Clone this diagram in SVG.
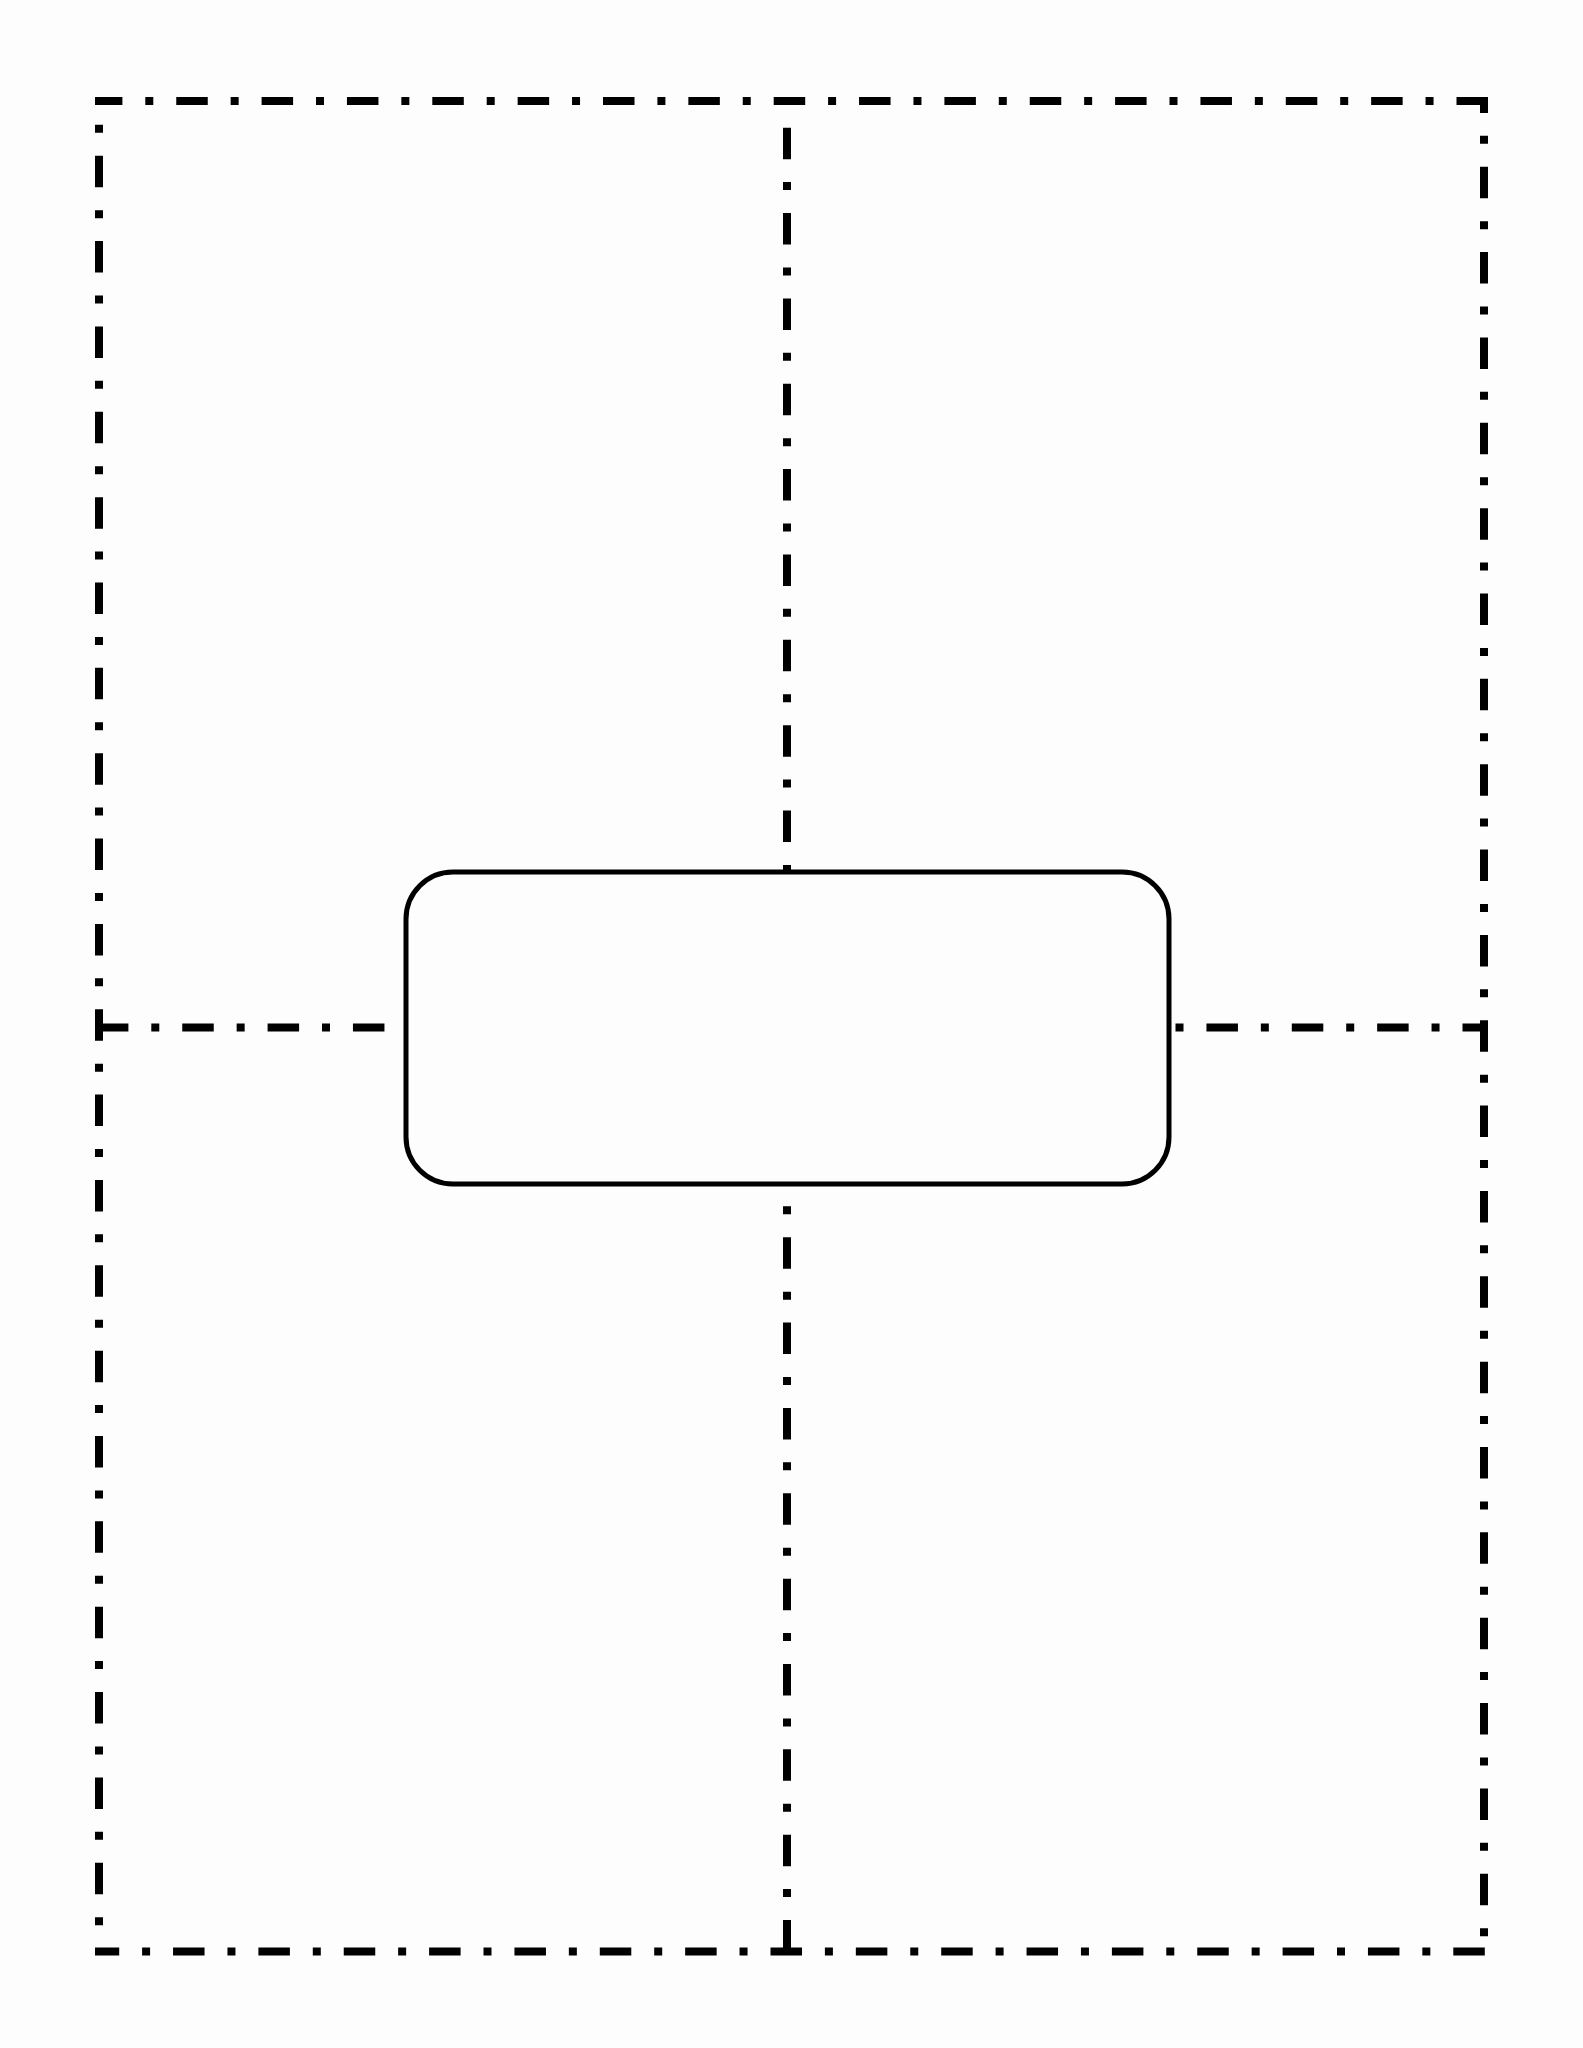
<svg xmlns="http://www.w3.org/2000/svg" width="1583" height="2048" viewBox="0 0 1583 2048">
  <style>
    .dd { fill: none; stroke: #000; stroke-width: 8; stroke-linecap: butt; stroke-dasharray: 31.5 22.9 8 22.95; }
    .box { fill: #fdfdfd; stroke: #000; stroke-width: 5; }
  </style>
  <rect x="0" y="0" width="1583" height="2048" fill="#fdfdfd"/>
  <g id="connectors">
    <line class="dd" x1="95" y1="101" x2="1488" y2="101" stroke-dashoffset="4.1"/>
    <line class="dd" x1="95" y1="1951.5" x2="1488" y2="1951.5" stroke-dashoffset="7.3"/>
    <line class="dd" x1="99" y1="97" x2="99" y2="1948" stroke-dashoffset="26.6"/>
    <line class="dd" x1="1484" y1="97" x2="1484" y2="1955" stroke-dashoffset="15.6"/>
    <line class="dd" x1="787" y1="127.7" x2="787" y2="1955" stroke-dashoffset="0"/>
    <line class="dd" x1="96.9" y1="1027.5" x2="1488" y2="1027.5" stroke-dashoffset="0"/>
  </g>
  <g id="center-box">
    <rect class="box" x="406" y="872" width="763" height="312" rx="47" ry="47"/>
  </g>
</svg>
